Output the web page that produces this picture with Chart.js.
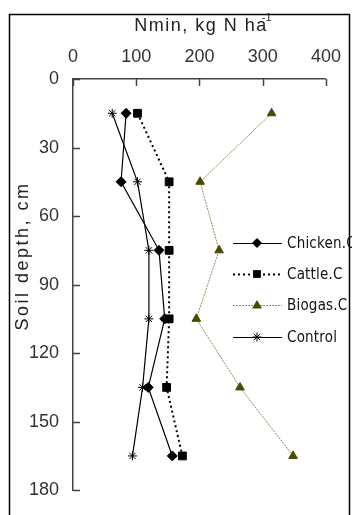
<!DOCTYPE html>
<html>
<head>
<meta charset="utf-8">
<script src="https://cdn.jsdelivr.net/npm/chart.js@4.4.1/dist/chart.umd.min.js"></script>
<style>
  html, body { margin: 0; padding: 0; background: #fff; }
  #wrap { width: 352px; height: 515px; }
</style>
</head>
<body>
<div id="wrap"><canvas id="chart" width="352" height="515"></canvas></div>
<script>
// soil depth (cm) for each sampling layer
const depths  = [15, 45, 75, 105, 135, 165];
// Nmin, kg N/ha
const chicken = [84, 76, 136, 145, 119, 157];
const cattle  = [102, 152, 152, 152, 148, 173];
const biogas  = [314, 201, 231, 195, 264, 348];
const control = [62, 102, 120, 120, 110, 94];

const seriesNames = ['Chicken.C', 'Cattle.C', 'Biogas.C', 'Control'];
const xTicks = [0, 100, 200, 300, 400];
const yTicks = [0, 30, 60, 90, 120, 150, 180];

const FONT = "'Liberation Sans', Arial, sans-serif";
const NARROW = "'Liberation Sans Narrow', 'DejaVu Sans Condensed', sans-serif";

const pts = vals => vals.map((v, i) => ({ x: v, y: depths[i] }));

const STYLES = [
  { color: '#000', dash: [], width: 1.2, point: 'rectRot', fill: '#000', r: 5 },
  { color: '#000', dash: [2, 3], width: 2, point: 'rect', fill: '#000', r: 5.5 },
  { color: '#8c8c5c', dash: [2, 1], width: 1, point: 'triangle', fill: '#4a4a05', r: 5 },
  { color: '#000', dash: [], width: 1.2, point: 'star', fill: 'transparent', r: 4.5 },
];

// ── frame, inner ticks, titles, legend ─────────────
const decor = {
  id: 'decor',
  afterDraw(chart) {
    const ctx = chart.ctx;
    const xs = chart.scales.x, ys = chart.scales.y;
    const area = chart.chartArea;
    ctx.save();

    // outer frame
    ctx.strokeStyle = '#000';
    ctx.lineWidth = 1.5;
    ctx.strokeRect(9.5, 14.5, 340, 540);

    // tick marks pointing into the plot
    ctx.strokeStyle = '#444';
    ctx.lineWidth = 1.5;
    ctx.beginPath();
    xTicks.forEach(t => {
      const px = Math.round(xs.getPixelForValue(t)) + 0.5;
      ctx.moveTo(px, area.top);
      ctx.lineTo(px, area.top + 7);
    });
    yTicks.forEach(t => {
      const py = Math.round(ys.getPixelForValue(t)) + 0.5;
      ctx.moveTo(area.left, py);
      ctx.lineTo(area.left + 7, py);
    });
    ctx.stroke();

    // x title with superscript
    ctx.fillStyle = '#222';
    ctx.textBaseline = 'alphabetic';
    ctx.font = '18px ' + FONT;
    ctx.letterSpacing = '1.5px';
    const main = 'Nmin, kg N ha';
    const w = ctx.measureText(main).width;
    const sx = 205 - (w + 8) / 2;
    ctx.textAlign = 'left';
    ctx.fillText(main, sx, 31);
    ctx.letterSpacing = '0px';
    ctx.font = '11px ' + FONT;
    ctx.fillText('-1', sx + w - 6, 21);

    // y title
    ctx.save();
    ctx.translate(28, 256);
    ctx.rotate(-Math.PI / 2);
    ctx.textAlign = 'center';
    ctx.font = '18px ' + FONT;
    ctx.letterSpacing = '2.5px';
    ctx.fillText('Soil depth, cm', 0, 0);
    ctx.restore();

    // legend
    const legY = [243, 274, 305, 337];
    seriesNames.forEach((name, i) => {
      const s = STYLES[i];
      const y = legY[i];
      ctx.strokeStyle = s.color;
      ctx.lineWidth = s.width;
      ctx.setLineDash(s.dash);
      ctx.beginPath();
      ctx.moveTo(233, y + 0.5);
      ctx.lineTo(282, y + 0.5);
      ctx.stroke();
      ctx.setLineDash([]);
      drawMarker(ctx, s, 257, y);
      ctx.fillStyle = '#111';
      ctx.font = '15px ' + NARROW;
      ctx.letterSpacing = '0.2px';
      ctx.textAlign = 'left';
      ctx.textBaseline = 'middle';
      ctx.fillText(name, 287, y + 1);
      ctx.letterSpacing = '0px';
    });
    ctx.restore();
  }
};

function drawMarker(ctx, s, x, y) {
  const r = s.r;
  ctx.fillStyle = s.fill;
  ctx.strokeStyle = '#000';
  ctx.lineWidth = 1;
  ctx.beginPath();
  if (s.point === 'rectRot') {
    ctx.moveTo(x, y - r); ctx.lineTo(x + r, y); ctx.lineTo(x, y + r); ctx.lineTo(x - r, y);
    ctx.closePath(); ctx.fill();
  } else if (s.point === 'rect') {
    const h = r * Math.SQRT1_2;
    ctx.fillRect(x - h, y - h, 2 * h, 2 * h);
  } else if (s.point === 'triangle') {
    ctx.moveTo(x, y - r); ctx.lineTo(x + r, y + r * 0.7); ctx.lineTo(x - r, y + r * 0.7);
    ctx.closePath(); ctx.fill();
  } else {
    const d = r * Math.SQRT1_2;
    ctx.moveTo(x - r, y); ctx.lineTo(x + r, y);
    ctx.moveTo(x - d, y - d); ctx.lineTo(x + d, y + d);
    ctx.moveTo(x - d, y + d); ctx.lineTo(x + d, y - d);
    ctx.moveTo(x, y - r); ctx.lineTo(x, y + r);
    ctx.stroke();
  }
}

const datasets = [chicken, cattle, biogas, control].map((vals, i) => {
  const s = STYLES[i];
  return {
    label: seriesNames[i],
    data: pts(vals),
    showLine: true,
    borderColor: s.color,
    borderWidth: s.width,
    borderDash: s.dash,
    pointStyle: s.point,
    pointRadius: s.r,
    pointBackgroundColor: s.fill,
    pointBorderColor: s.point === 'star' ? '#000' : s.fill,
    pointBorderWidth: 1,
  };
});

new Chart(document.getElementById('chart'), {
  type: 'scatter',
  data: { datasets },
  options: {
    responsive: false,
    animation: false,
    devicePixelRatio: 1,
    layout: { padding: { left: 0, top: 0, right: 21, bottom: 20 } },
    plugins: { legend: { display: false }, tooltip: { enabled: false } },
    scales: {
      x: {
        type: 'linear',
        position: 'top',
        min: 0, max: 400,
        afterFit: sc => { sc.height = 79; },
        afterBuildTicks: sc => { sc.ticks = xTicks.map(v => ({ value: v })); },
        ticks: { color: '#333', font: { family: FONT, size: 18 }, padding: 11, maxRotation: 0 },
        grid: { drawOnChartArea: false, drawTicks: false },
        border: { display: true, color: '#444', width: 1.5 },
      },
      y: {
        type: 'linear',
        reverse: true,
        min: 0, max: 180,
        afterFit: sc => { sc.width = 73; },
        afterBuildTicks: sc => { sc.ticks = yTicks.map(v => ({ value: v })); },
        ticks: { color: '#333', font: { family: FONT, size: 18 }, padding: 14 },
        grid: { drawOnChartArea: false, drawTicks: false },
        border: { display: true, color: '#444', width: 1.5 },
      },
    },
  },
  plugins: [decor],
});
</script>
</body>
</html>
